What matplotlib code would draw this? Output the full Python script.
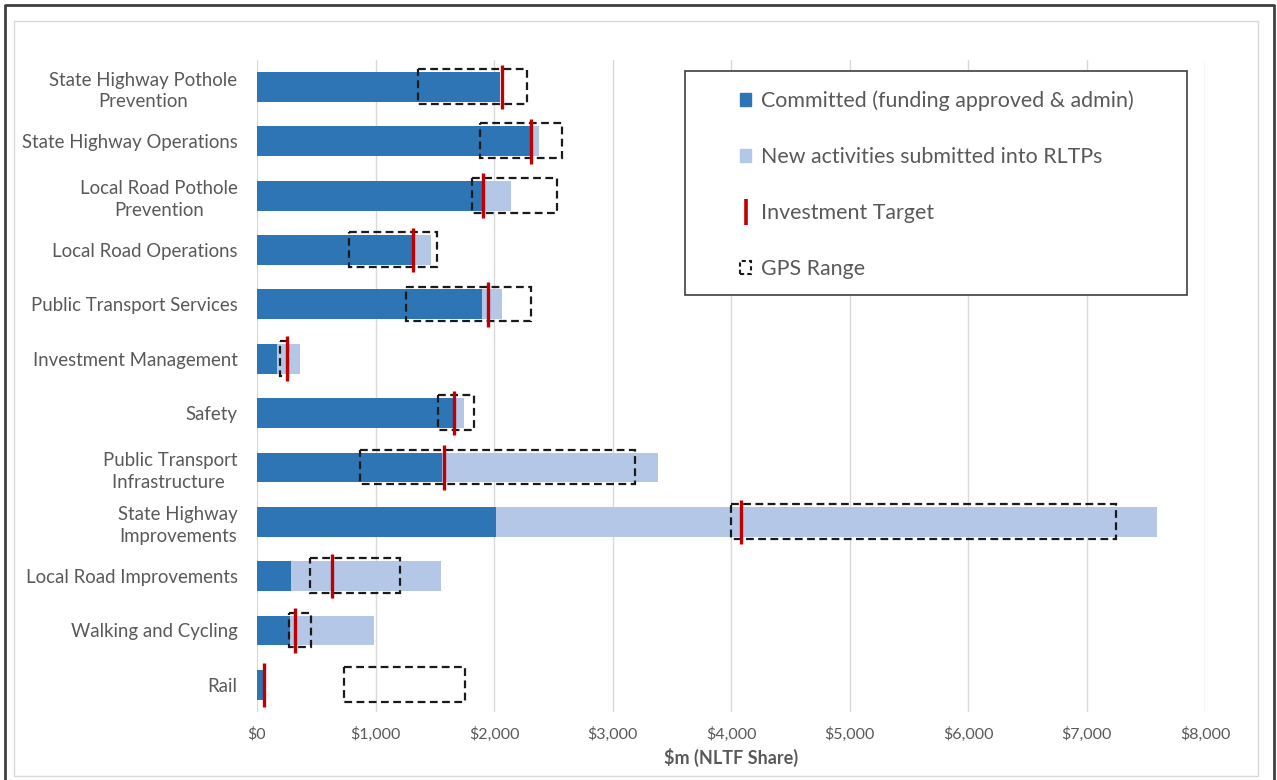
import matplotlib.pyplot as plt
import numpy as np
from matplotlib.patches import Rectangle, Patch
from matplotlib.lines import Line2D

# activity classes, top to bottom
categories = ["State Highway Pothole\nPrevention", "State Highway Operations",
              "Local Road Pothole\nPrevention", "Local Road Operations",
              "Public Transport Services", "Investment Management", "Safety",
              "Public Transport\nInfrastructure ", "State Highway\nImprovements",
              "Local Road Improvements", "Walking and Cycling", "Rail"]

# $m NLTF share
committed = [2050, 2305, 1900, 1320, 1900, 165, 1650, 1560, 2020, 285, 280, 50]
new_activities = [0, 70, 240, 150, 170, 195, 95, 1820, 5575, 1265, 710, 0]
target = [2065, 2315, 1905, 1320, 1945, 250, 1665, 1580, 4080, 630, 320, 60]
gps_low = [1360, 1880, 1815, 775, 1255, 195, 1525, 865, 4000, 450, 270, 730]
gps_high = [2275, 2570, 2535, 1520, 2310, 265, 1830, 3190, 7245, 1205, 455, 1755]

xticks = np.arange(0, 8001, 1000)

dark_blue = "#2E75B6"
light_blue = "#B4C7E7"
red = "#C00000"
grey_text = "#595959"

plt.rcParams['font.family'] = ['Lato', 'DejaVu Sans']

fig = plt.figure(figsize=(12.77, 7.80), dpi=100)
ax = fig.add_axes([0.2013, 0.0872, 0.7424, 0.836])

y = np.arange(len(categories))
bar_h = 0.55

ax.barh(y, committed, height=bar_h, color=dark_blue, zorder=2)
ax.barh(y, new_activities, left=committed, height=bar_h, color=light_blue, zorder=2)

# GPS range boxes
for yi, lo, hi in zip(y, gps_low, gps_high):
    ax.add_patch(Rectangle((lo, yi - 0.33), hi - lo, 0.64, fill=False,
                           edgecolor="#1a1a1a", lw=1.6, linestyle=(0, (3.5, 2)),
                           zorder=3))

# investment targets
ax.vlines(target, y - 0.41, y + 0.41, color=red, lw=2.4, zorder=4)

ax.set_xlim(0, 8000)
ax.set_ylim(11.5, -0.5)
ax.set_xticks(xticks)
ax.set_xticklabels(["${:,}".format(v) for v in xticks])
ax.set_yticks(y)
ax.set_yticklabels(categories)
for lab in ax.get_yticklabels():
    lab.set_multialignment("center")
    lab.set_linespacing(1.35)

ax.tick_params(axis="y", length=0, pad=14, labelsize=13.4, labelcolor=grey_text)
ax.tick_params(axis="x", length=0, pad=11, labelsize=11.5, labelcolor=grey_text)
ax.grid(axis="x", color="#D9D9D9", lw=1, zorder=0)
ax.set_axisbelow(True)
for s in ax.spines.values():
    s.set_visible(False)

ax.set_xlabel("$m (NLTF Share)", fontsize=13, fontweight="bold",
              color=grey_text, labelpad=4)

# legend with its own frame
ax.add_patch(Rectangle((0.4515, 0.6396), 0.5295, 0.3434, transform=ax.transAxes,
                       facecolor="white", edgecolor="#404040", lw=1.2,
                       zorder=5, clip_on=False))
handles = [Patch(facecolor=dark_blue, edgecolor=dark_blue),
           Patch(facecolor=light_blue, edgecolor=light_blue),
           Line2D([], [], color=red, marker="|", markersize=19, mew=2.6,
                  linestyle="None"),
           Patch(facecolor="none", edgecolor="#1a1a1a", linestyle=(0, (2, 1.5)), lw=1.5)]
labels = ["Committed (funding approved & admin)", "New activities submitted into RLTPs",
          "Investment Target", "GPS Range"]
leg = ax.legend(handles, labels, loc="upper left", bbox_to_anchor=(0.5, 0.966),
                frameon=False, fontsize=15.4, handlelength=0.55, handleheight=0.55,
                handletextpad=0.45, labelspacing=1.68, borderaxespad=0)
leg.set_zorder(6)
for t in leg.get_texts():
    t.set_color(grey_text)

# outer frames
fig.add_artist(Line2D([0.0039, 0.0039, 0.9977, 0.9977], [0.0, 0.9936, 0.9936, 0.0],
                      transform=fig.transFigure, color="#404040", lw=2))
fig.add_artist(Rectangle((0.011, 0.0051), 0.9741, 0.9679, transform=fig.transFigure,
                         fill=False, edgecolor="#D9D9D9", lw=1))

fig.savefig("out.png", dpi=100)
